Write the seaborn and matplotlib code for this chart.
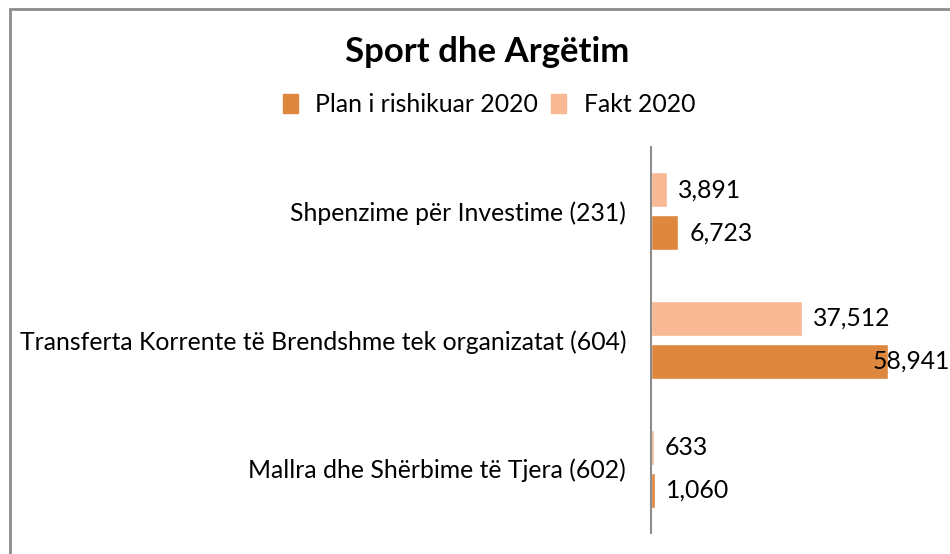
"""
Sport dhe Argëtim - plan vs fakt 2020
"""
import pandas as pd
import matplotlib.pyplot as plt
import seaborn as sns
from matplotlib.patches import Rectangle, Patch

# të dhënat
kategorite = ['Shpenzime për Investime (231)',
              'Transferta Korrente të Brendshme tek organizatat (604)',
              'Mallra dhe Shërbime të Tjera (602)']
plan_2020 = [6723, 58941, 1060]
fakt_2020 = [3891, 37512, 633]
seri = ['Plan i rishikuar 2020', 'Fakt 2020']
ngjyrat = {'Plan i rishikuar 2020': '#DD873F', 'Fakt 2020': '#F8B994'}

sns.set_style('white')
plt.rcParams['font.family'] = ['Lato', 'DejaVu Sans']
plt.rcParams['text.color'] = 'black'

df = pd.DataFrame({
    'kategoria': kategorite * 2,
    'vlera': plan_2020 + fakt_2020,
    'seria': [seri[0]] * 3 + [seri[1]] * 3,
})

W, H = 950, 554
fs = 17.8
fig = plt.figure(figsize=(W / 100, H / 100), dpi=100)

# korniza e grafikut
fig.patches.append(Rectangle((10 / W, -0.1), 1.2, (H - 9) / H + 0.1,
                             transform=fig.transFigure, fill=False,
                             edgecolor='#8c8c8c', linewidth=2))

ax = fig.add_axes([651 / W, 21 / H, (W - 651) / W, (533 - 147) / H])
sns.barplot(data=df, y='kategoria', x='vlera', hue='seria',
            hue_order=['Fakt 2020', 'Plan i rishikuar 2020'],
            palette=ngjyrat, orient='h', width=0.668, gap=0.186,
            order=kategorite, ax=ax, legend=False, saturation=1)

xmax = 74300
ax.set_xlim(0, xmax)
ax.set_ylim(2.5, -0.5)
ax.set_xlabel('')
ax.set_ylabel('')
ax.set_xticks([])
for s in ['top', 'right', 'bottom']:
    ax.spines[s].set_visible(False)
ax.spines['left'].set_color('#8c8c8c')
ax.spines['left'].set_linewidth(1.5)
ax.tick_params(axis='y', length=0, pad=18, labelsize=fs, labelcolor='black')
ax.set_yticks([-0.5, 0.5, 1.5, 2.5], minor=True)
ax.tick_params(axis='y', which='minor', length=5, width=1.2, color='#8c8c8c')
ax.patch.set_alpha(0)

# etiketat e vlerave
for cont in ax.containers:
    for bar in cont:
        v = bar.get_width()
        y = bar.get_y() + bar.get_height() / 2
        txt = f'{int(v):,}'
        if v == max(plan_2020):
            ax.text(xmax, y, txt, ha='right', va='center', fontsize=fs, clip_on=False)
        else:
            ax.annotate(txt, (v, y), xytext=(8, 0), textcoords='offset points',
                        ha='left', va='center', fontsize=fs)

fig.text(487 / W, 1 - 52 / H, 'Sport dhe Argëtim', ha='center', va='center',
         fontsize=25, fontweight='bold')

handles = [Patch(color=ngjyrat[s]) for s in seri]
fig.legend(handles, seri, loc='center', bbox_to_anchor=(489 / W, 1 - 105 / H),
           ncol=2, frameon=False, fontsize=fs, handlelength=0.6, handleheight=0.8,
           handletextpad=0.7, columnspacing=0.55)

plt.savefig('out.png', dpi=100)
